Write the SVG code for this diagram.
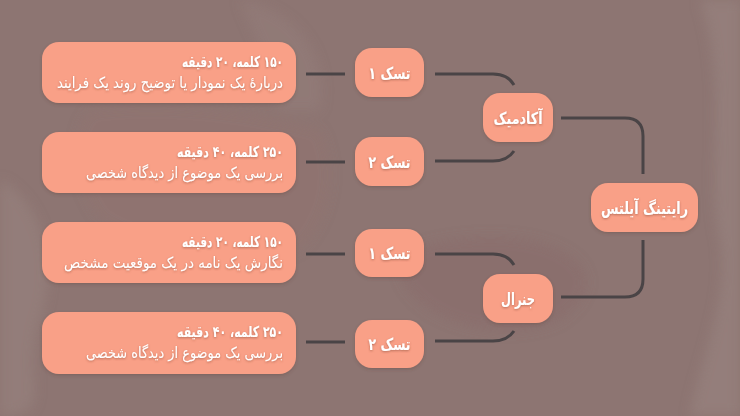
<svg xmlns="http://www.w3.org/2000/svg" width="740" height="416" viewBox="0 0 740 416">
  <style>
    .node { fill: #f9a087; }
    .conn { fill: none; stroke: #4a4446; stroke-width: 3; stroke-linecap: butt; }
    .lbl { font-family: "DejaVu Sans", "Noto Sans", sans-serif; fill: #ffffff; font-weight: bold; font-size: 16.5px; text-anchor: middle; direction: rtl; }
    .ttl { font-family: "DejaVu Sans", "Noto Sans", sans-serif; fill: #ffffff; font-weight: bold; font-size: 15px; direction: rtl; text-anchor: start; }
    .sub { font-family: "DejaVu Sans", "Noto Sans", sans-serif; fill: #ffffff; font-size: 15.5px; direction: rtl; text-anchor: start; }
  </style>
  <defs>
    <filter id="sh" x="-20%" y="-20%" width="140%" height="150%">
      <feDropShadow dx="0" dy="1.5" stdDeviation="1.5" flood-color="#5a3c38" flood-opacity="0.3"/>
    </filter>
    <filter id="tsh" x="-10%" y="-30%" width="120%" height="160%">
      <feDropShadow dx="0" dy="1" stdDeviation="0.8" flood-color="#7a3a2c" flood-opacity="0.5"/>
    </filter>
    <filter id="blur" x="-20%" y="-20%" width="140%" height="140%">
      <feGaussianBlur stdDeviation="6"/>
    </filter>
  </defs>

  <!-- background -->
  <rect x="0" y="0" width="740" height="416" fill="#8d7572"/>
  <g filter="url(#blur)">
    <path d="M0,180 C40,200 60,260 40,320 C20,380 60,416 0,416 Z" fill="#9a8581" opacity="0.5"/>
    <path d="M700,0 L740,0 L740,416 L690,416 C700,360 730,300 720,240 C705,170 730,90 700,0 Z" fill="#9c8884" opacity="0.5"/>
    <path d="M410,250 C450,235 520,230 560,250 C600,270 590,300 560,320 C520,340 460,330 430,310 C400,290 390,262 410,250 Z" fill="#86686a" opacity="0.4"/>
    <path d="M90,110 C160,100 250,110 320,130 C340,170 330,220 300,250 C240,270 150,250 100,220 C70,180 70,130 90,110 Z" fill="#94706c" opacity="0.3"/>
    <path d="M240,0 C300,10 330,60 320,110 L280,110 C270,60 250,30 240,0 Z" fill="#97817e" opacity="0.35"/>
  </g>

  <!-- connectors -->
  <g id="connectors">
    <line class="conn" x1="306" y1="74" x2="345" y2="74"/>
    <line class="conn" x1="306" y1="162" x2="345" y2="162"/>
    <line class="conn" x1="306" y1="254" x2="345" y2="254"/>
    <line class="conn" x1="306" y1="342" x2="345" y2="342"/>

    <path class="conn" d="M435,74 H493 C503,74 510,78 514,85"/>
    <path class="conn" d="M435,161 H493 C503,161 510,157 514,151"/>
    <path class="conn" d="M435,254 H493 C503,254 510,258 514,265"/>
    <path class="conn" d="M435,341 H493 C503,341 510,337 514,331"/>

    <path class="conn" d="M561,118 H625 Q643,118 643,136 V174"/>
    <path class="conn" d="M643,240 V279 Q643,297 625,297 H561"/>
  </g>

  <!-- left description boxes -->
  <g id="desc-1" filter="url(#sh)">
    <rect class="node" x="42" y="42" width="254" height="61" rx="17"/>
    <g filter="url(#tsh)">
      <text class="ttl" x="283" y="67" textLength="101" lengthAdjust="spacingAndGlyphs">۱۵۰ کلمه، ۲۰ دقیقه</text>
      <text class="sub" x="283" y="88" textLength="226" lengthAdjust="spacingAndGlyphs">دربارهٔ یک نمودار یا توضیح روند یک فرایند</text>
    </g>
  </g>
  <g id="desc-2" filter="url(#sh)">
    <rect class="node" x="42" y="132" width="254" height="61" rx="17"/>
    <g filter="url(#tsh)">
      <text class="ttl" x="283" y="157" textLength="106" lengthAdjust="spacingAndGlyphs">۲۵۰ کلمه، ۴۰ دقیقه</text>
      <text class="sub" x="283" y="178" textLength="197" lengthAdjust="spacingAndGlyphs">بررسی یک موضوع از دیدگاه شخصی</text>
    </g>
  </g>
  <g id="desc-3" filter="url(#sh)">
    <rect class="node" x="42" y="222" width="254" height="61" rx="17"/>
    <g filter="url(#tsh)">
      <text class="ttl" x="283" y="247" textLength="101" lengthAdjust="spacingAndGlyphs">۱۵۰ کلمه، ۲۰ دقیقه</text>
      <text class="sub" x="283" y="268" textLength="219" lengthAdjust="spacingAndGlyphs">نگارش یک نامه در یک موقعیت مشخص</text>
    </g>
  </g>
  <g id="desc-4" filter="url(#sh)">
    <rect class="node" x="42" y="312" width="254" height="62" rx="17"/>
    <g filter="url(#tsh)">
      <text class="ttl" x="283" y="337" textLength="106" lengthAdjust="spacingAndGlyphs">۲۵۰ کلمه، ۴۰ دقیقه</text>
      <text class="sub" x="283" y="358" textLength="197" lengthAdjust="spacingAndGlyphs">بررسی یک موضوع از دیدگاه شخصی</text>
    </g>
  </g>

  <!-- task nodes -->
  <g id="task-a1" filter="url(#sh)">
    <rect class="node" x="355" y="48" width="69" height="49" rx="17"/>
    <text class="lbl" x="389.5" y="79" textLength="42" lengthAdjust="spacingAndGlyphs" filter="url(#tsh)">تسک ۱</text>
  </g>
  <g id="task-a2" filter="url(#sh)">
    <rect class="node" x="355" y="137" width="69" height="49" rx="17"/>
    <text class="lbl" x="389.5" y="168" textLength="42" lengthAdjust="spacingAndGlyphs" filter="url(#tsh)">تسک ۲</text>
  </g>
  <g id="task-g1" filter="url(#sh)">
    <rect class="node" x="355" y="229" width="69" height="48" rx="17"/>
    <text class="lbl" x="389.5" y="259" textLength="42" lengthAdjust="spacingAndGlyphs" filter="url(#tsh)">تسک ۱</text>
  </g>
  <g id="task-g2" filter="url(#sh)">
    <rect class="node" x="355" y="320" width="69" height="48" rx="17"/>
    <text class="lbl" x="389.5" y="350" textLength="42" lengthAdjust="spacingAndGlyphs" filter="url(#tsh)">تسک ۲</text>
  </g>

  <!-- category nodes -->
  <g id="academic" filter="url(#sh)">
    <rect class="node" x="483" y="93" width="70" height="49" rx="17"/>
    <text class="lbl" x="518" y="124" textLength="49" lengthAdjust="spacingAndGlyphs" filter="url(#tsh)">آکادمیک</text>
  </g>
  <g id="general" filter="url(#sh)">
    <rect class="node" x="483" y="274" width="70" height="49" rx="17"/>
    <text class="lbl" x="518" y="305" textLength="34" lengthAdjust="spacingAndGlyphs" filter="url(#tsh)">جنرال</text>
  </g>

  <!-- root -->
  <g id="root" filter="url(#sh)">
    <rect class="node" x="591" y="183" width="107" height="49" rx="17"/>
    <text class="lbl" x="644.5" y="214" textLength="87" lengthAdjust="spacingAndGlyphs" filter="url(#tsh)">رایتینگ آیلتس</text>
  </g>
</svg>
